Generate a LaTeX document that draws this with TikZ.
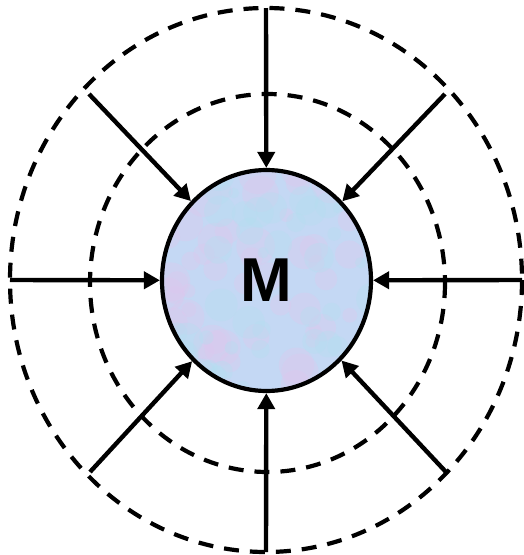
\documentclass[tikz,border=0pt]{standalone}
\usepackage{fontspec}
\setmainfont{Liberation Sans}
\usetikzlibrary{arrows.meta,shapes.geometric}
\definecolor{mfill}{RGB}{196,216,244}
\definecolor{mpink}{RGB}{222,200,238}
\definecolor{mcyan}{RGB}{180,222,240}
\tikzset{
  ring/.style={draw=black,line width=4.2pt,dash pattern=on 15pt off 11pt},
  flow/.style={draw=black,line width=4.4pt,-{Triangle[length=16pt,width=17pt]}},
  mass/.style={ellipse,draw=black,line width=4.2pt,minimum width=209pt,minimum height=221pt,inner sep=0pt,font=\fontsize{62}{62}\selectfont\bfseries}
}
\begin{document}
\begin{tikzpicture}[x=1pt,y=-1pt]
\useasboundingbox (0,0) rectangle (524,555);
\draw[ring] (266,280) ellipse [x radius=256,y radius=272];
\draw[ring] (267.5,283) ellipse [x radius=177.5,y radius=189];
% mottled fill of the central body
\begin{scope}
  \clip (266.5,280.5) ellipse [x radius=104,y radius=110];
  \fill[mfill] (266.5,280.5) ellipse [x radius=106,y radius=112];
  \pgfmathsetseed{7}
  \foreach \i in {1,...,60} {
    \pgfmathsetmacro{\px}{160+213*rnd}
    \pgfmathsetmacro{\py}{168+225*rnd}
    \pgfmathsetmacro{\pr}{6+14*rnd}
    \fill[mpink,opacity=0.35] (\px,\py) circle [radius=\pr];
  }
  \foreach \i in {1,...,50} {
    \pgfmathsetmacro{\px}{160+213*rnd}
    \pgfmathsetmacro{\py}{168+225*rnd}
    \pgfmathsetmacro{\pr}{5+12*rnd}
    \fill[mcyan,opacity=0.35] (\px,\py) circle [radius=\pr];
  }
\end{scope}
\node[mass] (M) at (266.5,280.5) {M};
\coordinate (t) at (266,8);
\coordinate (b) at (266,552);
\coordinate (l) at (10,280);
\coordinate (r) at (522,280);
\coordinate (tl) at (89,94);
\coordinate (tr) at (445,94);
\coordinate (bl) at (90,472);
\coordinate (br) at (446,472);
\foreach \p in {t,b,l,r,tl,tr,bl,br} \draw[flow] (\p) -- (M);
\end{tikzpicture}
\end{document}
